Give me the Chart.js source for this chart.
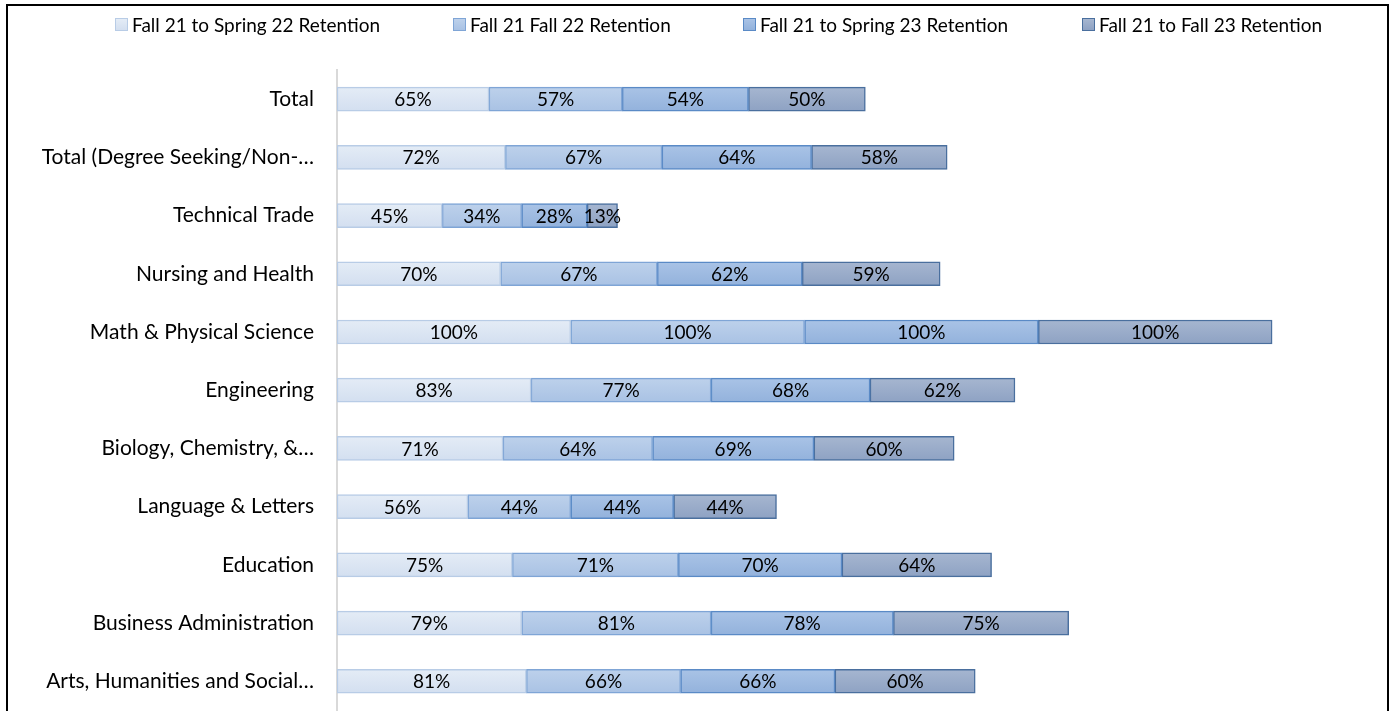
<!DOCTYPE html>
<html>
<head>
<meta charset="utf-8">
<script src="https://cdn.jsdelivr.net/npm/chart.js@4.4.0/dist/chart.umd.min.js"></script>
<style>
  html, body { margin: 0; padding: 0; background: #fff; overflow: hidden; }
  #wrap { position: relative; width: 1393px; height: 711px; overflow: hidden; }
  #chartBox { position: absolute; left: 0; top: 0; width: 1393px; height: 746px; }
  #frame { position: absolute; left: 6px; top: 4px; width: 1379px; height: 800px; border: 2px solid #000; pointer-events: none; }
  #legend { position: absolute; left: 0; top: 11px; width: 1393px; height: 26px; font-family: Lato, "Open Sans", sans-serif; font-size: 19px; color: #000; }
  #legend span.item { position: absolute; top: 0; display: flex; align-items: center; white-space: nowrap; height: 26px; }
  #legend span.box { width: 11px; height: 11px; margin-right: 4px; border: 1px solid; display: inline-block; }
</style>
</head>
<body>
<div id="wrap">
  <div id="chartBox"><canvas id="myChart"></canvas></div>
  <div id="legend"></div>
  <div id="frame"></div>
</div>
<script>
// 类别 (Excel 截断后的标签)
var categories = [
  "Total",
  "Total (Degree Seeking/Non-…",
  "Technical Trade",
  "Nursing and Health",
  "Math & Physical Science",
  "Engineering",
  "Biology, Chemistry, &…",
  "Language & Letters",
  "Education",
  "Business Administration",
  "Arts, Humanities and Social…"
];

var seriesNames = [
  "Fall 21 to Spring 22 Retention",
  "Fall 21 Fall 22 Retention",
  "Fall 21 to Spring 23 Retention",
  "Fall 21 to Fall 23 Retention"
];

var springTwo22 = [65, 72, 45, 70, 100, 83, 71, 56, 75, 79, 81];
var fallTwo22   = [57, 67, 34, 67, 100, 77, 64, 44, 71, 81, 66];
var springTwo23 = [54, 64, 28, 62, 100, 68, 69, 44, 70, 78, 66];
var fallTwo23   = [50, 58, 13, 59, 100, 62, 60, 44, 64, 75, 60];

// 渐层颜色 (上 / 下)
var fillsTop    = ["#e4ecf6", "#bdd1eb", "#a9c3e6", "#a6b6d0"];
var fillsBottom = ["#d3dff0", "#a9c2e4", "#93b2dc", "#8ea2c3"];
var borders     = ["#b8cce6", "#7fa5d6", "#5a8ac6", "#4a6f9e"];
var legendLeft  = [115, 453, 743, 1082];

var allSeries = [springTwo22, fallTwo22, springTwo23, fallTwo23];

// legend
var legendBox = document.getElementById('legend');
for (let i = 0; i < seriesNames.length; i++) {
  var item = document.createElement('span');
  item.className = 'item';
  item.style.left = legendLeft[i] + 'px';
  item.innerHTML = '<span class="box" style="background:linear-gradient(' + fillsTop[i] + ',' + fillsBottom[i] + ');border-color:' + borders[i] + '"></span>' + seriesNames[i];
  legendBox.appendChild(item);
}

function barGradient(i) {
  return function (context) {
    var chart = context.chart;
    var yScale = chart.scales.y;
    if (!chart.chartArea || !yScale || context.dataIndex === undefined) return fillsBottom[i];
    var y = yScale.getPixelForValue(context.dataIndex);
    var g = chart.ctx.createLinearGradient(0, y - 12, 0, y + 12);
    g.addColorStop(0, fillsTop[i]);
    g.addColorStop(1, fillsBottom[i]);
    return g;
  };
}

// 柱内显示数值
var valueLabels = {
  id: 'valueLabels',
  afterDatasetsDraw(chart) {
    var ctx = chart.ctx;
    ctx.save();
    ctx.font = '19px Lato, "Open Sans", sans-serif';
    ctx.fillStyle = '#000';
    ctx.textAlign = 'center';
    ctx.textBaseline = 'middle';
    chart.data.datasets.forEach(function (ds, di) {
      var meta = chart.getDatasetMeta(di);
      meta.data.forEach(function (bar, idx) {
        var p = bar.getProps(['x', 'y', 'base'], true);
        ctx.fillText(ds.data[idx] + '%', (p.x + p.base) / 2, p.y + 1);
      });
    });
    ctx.restore();
  }
};

var datasets = [];
for (let i = 0; i < allSeries.length; i++) {
  datasets.push({
    label: seriesNames[i],
    data: allSeries[i],
    backgroundColor: barGradient(i),
    borderColor: borders[i],
    borderWidth: 1.5,
    borderSkipped: false,
    barThickness: 24
  });
}

var myChart = new Chart(document.getElementById('myChart').getContext('2d'), {
  type: 'bar',
  data: { labels: categories, datasets: datasets },
  options: {
    indexAxis: 'y',
    responsive: true,
    maintainAspectRatio: false,
    animation: false,
    layout: { padding: { top: 70, right: 4, left: 0, bottom: 0 } },
    plugins: {
      legend: { display: false },
      tooltip: { enabled: false }
    },
    scales: {
      x: { stacked: true, display: false, min: 0, max: 450 },
      y: {
        stacked: true,
        grid: { display: false, drawTicks: false },
        border: { display: true, color: '#d9d9d9', width: 2 },
        ticks: {
          color: '#000',
          padding: 23,
          font: { family: 'Lato, "Open Sans", sans-serif', size: 21 }
        },
        afterFit: function (scale) { scale.width = 337; }
      }
    }
  },
  plugins: [valueLabels]
});
</script>
</body>
</html>
